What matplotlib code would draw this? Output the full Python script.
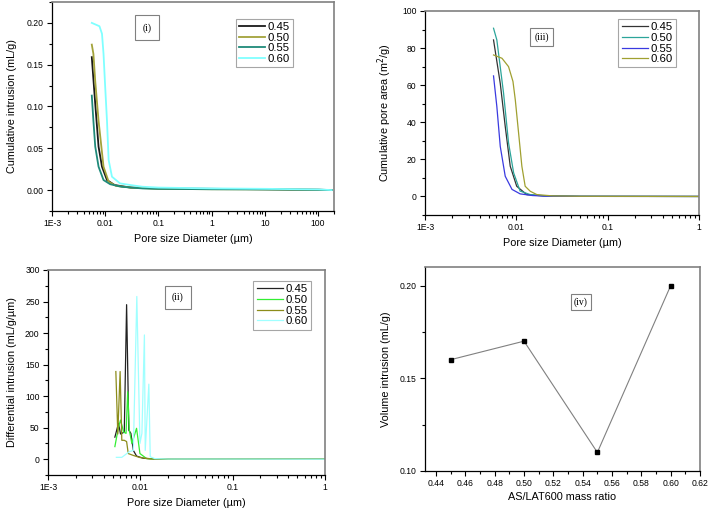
import matplotlib
matplotlib.use("Agg")
import matplotlib.pyplot as plt
from matplotlib.ticker import LogLocator, NullFormatter, MultipleLocator, FormatStrFormatter

plt.rcParams['font.family'] = ['Liberation Sans', 'DejaVu Sans']

ratios = ["0.45", "0.50", "0.55", "0.60"]

# (i) cumulative intrusion, mL/g vs pore diameter, um
cum_d_045 = [0.0056, 0.0065, 0.0075, 0.0087, 0.0108, 0.015, 0.03, 0.1, 1, 10, 100, 180]
cum_v_045 = [0.159, 0.103, 0.052, 0.028, 0.012, 0.006, 0.003, 0.002, 0.0015, 0.001, 0.0005, 0.0]
cum_d_050 = [0.0056, 0.006, 0.0065, 0.0075, 0.0093, 0.0116, 0.016, 0.03, 0.1, 1, 10, 100, 180]
cum_v_050 = [0.174, 0.163, 0.13, 0.083, 0.028, 0.010, 0.005, 0.003, 0.0015, 0.001, 0.0008, 0.0003, 0.0]
cum_d_055 = [0.0056, 0.006, 0.0065, 0.0075, 0.0093, 0.0124, 0.02, 0.05, 0.1, 1, 10, 100, 180]
cum_v_055 = [0.113, 0.083, 0.052, 0.028, 0.012, 0.007, 0.004, 0.002, 0.0015, 0.001, 0.0008, 0.0003, 0.0]
cum_d_060 = [0.0056, 0.0078, 0.0087, 0.0093, 0.0100, 0.0108, 0.0116, 0.0134, 0.019, 0.03, 0.05, 0.1, 1, 10, 100, 180]
cum_v_060 = [0.200, 0.196, 0.187, 0.163, 0.123, 0.083, 0.036, 0.016, 0.008, 0.006, 0.004, 0.003, 0.002, 0.0015, 0.0008, 0.0]

# (ii) differential intrusion, mL/g/um
dif_d_045 = [0.0053, 0.0058, 0.0061, 0.0067, 0.0071, 0.0075, 0.0079, 0.0084, 0.0091, 0.0108, 0.0166, 1]
dif_v_045 = [35, 57, 40, 43, 245, 46, 41, 14, 5, 1.5, 0, 0]
dif_d_050 = [0.0053, 0.0058, 0.0061, 0.0066, 0.0070, 0.0073, 0.0076, 0.0081, 0.0091, 0.0099, 0.0117, 0.02, 1]
dif_v_050 = [20, 51, 62, 43, 41, 107, 46, 25, 49, 9, 1, 0, 0]
dif_d_055 = [0.00543, 0.0057, 0.00604, 0.0063, 0.0067, 0.0071, 0.0074, 0.0084, 0.0099, 0.0128, 0.03, 1]
dif_v_055 = [139, 40, 139, 30, 30, 28, 9, 6, 2.7, 0.5, 0, 0]
dif_d_060 = [0.0055, 0.0063, 0.0070, 0.0076, 0.0084, 0.00916, 0.0099, 0.0104, 0.01107, 0.0113, 0.01236, 0.0128, 0.0143, 0.02, 1]
dif_v_060 = [3, 3, 8, 12, 14, 258, 25, 41, 197, 14, 119, 4, 1, 0.3, 0]

# (iii) cumulative pore area, m2/g
area_d_045 = [0.00563, 0.00667, 0.00756, 0.00858, 0.0101, 0.013, 0.02, 0.05, 1]
area_v_045 = [84.4, 61, 37.8, 16.3, 5.5, 1, 0.3, 0.05, 0]
area_d_050 = [0.00563, 0.00612, 0.00725, 0.00822, 0.00935, 0.0110, 0.0142, 0.02, 0.05, 1]
area_v_050 = [90.7, 84.4, 55.7, 28.9, 12.7, 2.9, 1, 0.4, 0.1, 0]
area_d_055 = [0.00563, 0.00612, 0.00667, 0.00756, 0.00897, 0.011, 0.015, 0.02, 0.05, 1]
area_v_055 = [65, 48.5, 27, 10.9, 3.8, 1.4, 0.5, 0.2, 0.05, 0]
area_d_060 = [0.00563, 0.00697, 0.00822, 0.00919, 0.00975, 0.0106, 0.0115, 0.0125, 0.0142, 0.0168, 0.025, 0.05, 1]
area_v_060 = [76.3, 74.5, 70, 62, 52, 34, 16.3, 5.5, 2.8, 1, 0.3, 0.1, 0]

# (iv) total volume intrusion vs mass ratio
mass_ratio = [0.45, 0.50, 0.55, 0.60]
vol_intr = [0.16, 0.17, 0.11, 0.20]

fig = plt.figure(figsize=(7.09, 5.09), dpi=100)
ax1 = fig.add_axes([0.0733, 0.5855, 0.398, 0.4106])
ax3 = fig.add_axes([0.5994, 0.5776, 0.3865, 0.4008])
ax2 = fig.add_axes([0.0677, 0.0668, 0.3907, 0.4028])
ax4 = fig.add_axes([0.5994, 0.0747, 0.388, 0.4008])


def style(ax):
    for s in ["top", "right"]:
        ax.spines[s].set_color("#808080")
        ax.spines[s].set_linewidth(1.2)
    for s in ["left", "bottom"]:
        ax.spines[s].set_linewidth(0.9)
    ax.tick_params(which="both", direction="out", top=False, right=False, labelsize=6.2, width=0.8)
    ax.tick_params(which="major", length=3.5, pad=2.5)
    ax.tick_params(which="minor", length=2)


def logx(ax, decades, labels, hi):
    ax.set_xscale("log")
    ax.set_xlim(1e-3, hi)
    ax.set_xticks(decades, labels=labels)
    ax.xaxis.set_minor_locator(LogLocator(base=10, subs=range(2, 10), numticks=20))
    ax.xaxis.set_minor_formatter(NullFormatter())


def panel_tag(ax, txt, x, y, pad):
    ax.text(x, y, txt, transform=ax.transAxes, ha="center", va="center",
            family=["Liberation Serif", "DejaVu Serif"], fontsize=7,
            bbox=dict(boxstyle="square", pad=pad, fc="white", ec="#808080", lw=0.8))


def legend(ax, x, y):
    lg = ax.legend(loc="upper right", bbox_to_anchor=(x, y), fontsize=8.2, frameon=True,
                   fancybox=False, edgecolor="#909090", handlelength=2.3, handletextpad=0.2,
                   labelspacing=0.05, borderpad=0.3, borderaxespad=0)
    lg.get_frame().set_linewidth(0.8)


# (i)
style(ax1)
for d, v, c, lab in zip([cum_d_045, cum_d_050, cum_d_055, cum_d_060],
                        [cum_v_045, cum_v_050, cum_v_055, cum_v_060],
                        ["#1a1a1a", "#a3a33a", "#1f8a7a", "#80ffff"], ratios):
    ax1.plot(d, v, color=c, lw=1.3, label=lab)
logx(ax1, [1e-3, 1e-2, 1e-1, 1, 10, 100], ["1E-3", "0.01", "0.1", "1", "10", "100"], 200)
ax1.set_ylim(-0.025, 0.225)
ax1.yaxis.set_major_locator(MultipleLocator(0.05))
ax1.yaxis.set_minor_locator(MultipleLocator(0.025))
ax1.yaxis.set_major_formatter(FormatStrFormatter("%.2f"))
ax1.set_xlabel("Pore size Diameter (µm)", fontsize=7.8, labelpad=4)
ax1.set_ylabel("Cumulative intrusion (mL/g)", fontsize=7.8, labelpad=7)
panel_tag(ax1, "(i)", 0.336, 0.876, 0.8)
legend(ax1, 0.855, 0.919)

# (iii)
style(ax3)
for d, v, c, lab in zip([area_d_045, area_d_050, area_d_055, area_d_060],
                        [area_v_045, area_v_050, area_v_055, area_v_060],
                        ["#333333", "#2ca59a", "#3a3ae0", "#a0a030"], ratios):
    ax3.plot(d, v, color=c, lw=0.9, label=lab)
logx(ax3, [1e-3, 1e-2, 1e-1, 1], ["1E-3", "0.01", "0.1", "1"], 1)
ax3.set_ylim(-10, 100)
ax3.yaxis.set_major_locator(MultipleLocator(20))
ax3.yaxis.set_minor_locator(MultipleLocator(10))
ax3.set_xlabel("Pore size Diameter (µm)", fontsize=7.8, labelpad=4)
ax3.set_ylabel("Cumulative pore area (m$^2$/g)", fontsize=7.8, labelpad=6)
panel_tag(ax3, "(iii)", 0.426, 0.874, 0.45)
legend(ax3, 0.916, 0.961)

# (ii)
style(ax2)
for d, v, c, lab in zip([dif_d_045, dif_d_050, dif_d_055, dif_d_060],
                        [dif_v_045, dif_v_050, dif_v_055, dif_v_060],
                        ["#222222", "#33ee33", "#8c8c1a", "#a0ffff"], ratios):
    ax2.plot(d, v, color=c, lw=0.9, label=lab)
logx(ax2, [1e-3, 1e-2, 1e-1, 1], ["1E-3", "0.01", "0.1", "1"], 1)
ax2.set_ylim(-25, 300)
ax2.yaxis.set_major_locator(MultipleLocator(50))
ax2.yaxis.set_minor_locator(MultipleLocator(25))
ax2.set_xlabel("Pore size Diameter (µm)", fontsize=7.8, labelpad=4)
ax2.set_ylabel("Differential intrusion (mL/g/µm)", fontsize=7.8, labelpad=6)
panel_tag(ax2, "(ii)", 0.469, 0.866, 0.7)
legend(ax2, 0.949, 0.946)

# (iv)
style(ax4)
ax4.plot(mass_ratio, vol_intr, color="#808080", lw=0.8, marker="s", ms=3.5,
         mfc="black", mec="black")
ax4.set_xlim(0.4325, 0.62)
ax4.set_ylim(0.10, 0.21)
ax4.xaxis.set_major_locator(MultipleLocator(0.02))
ax4.xaxis.set_minor_locator(MultipleLocator(0.01))
ax4.xaxis.set_major_formatter(FormatStrFormatter("%.2f"))
ax4.yaxis.set_major_locator(MultipleLocator(0.05))
ax4.yaxis.set_minor_locator(MultipleLocator(0.025))
ax4.yaxis.set_major_formatter(FormatStrFormatter("%.2f"))
ax4.set_xlabel("AS/LAT600 mass ratio", fontsize=7.8, labelpad=3)
ax4.set_ylabel("Volume intrusion (mL/g)", fontsize=7.8, labelpad=6)
panel_tag(ax4, "(iv)", 0.567, 0.828, 0.35)

fig.savefig("out.png", dpi=100)
